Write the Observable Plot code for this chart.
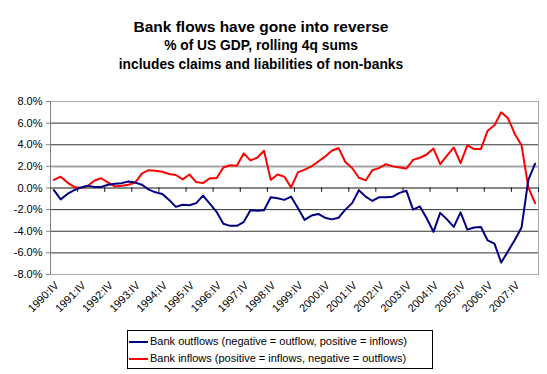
<!DOCTYPE html>
<html><head><meta charset="utf-8">
<script src="https://cdn.jsdelivr.net/npm/d3@7"></script>
<script src="https://cdn.jsdelivr.net/npm/@observablehq/plot@0.6"></script>
<style>
body{margin:0;background:#fff;font-family:"Liberation Sans",Arial,sans-serif;}
#wrap{position:relative;width:547px;height:374px;overflow:hidden;background:#fff;}
.t{position:absolute;left:0;width:522px;text-align:center;font-weight:bold;color:#000;white-space:nowrap;line-height:1;}
#t1{top:19px;font-size:15.5px;}
#t2{top:39px;font-size:13.8px;}
#t3{top:58px;font-size:13.8px;}
#chart{position:absolute;left:0;top:80px;}
#legend{position:absolute;left:127px;top:330px;width:306px;height:39px;border:1px solid #000;background:#fff;font-size:11px;color:#000;box-sizing:border-box;}
.li{position:absolute;left:1px;height:14px;line-height:14px;white-space:nowrap;}
.li span.sw{display:inline-block;width:19px;height:2px;vertical-align:middle;margin-right:2px;}
</style></head>
<body>
<div id="wrap">
  <div class="t" id="t1">Bank flows have gone into reverse</div>
  <div class="t" id="t2">% of US GDP, rolling 4q sums</div>
  <div class="t" id="t3">includes claims and liabilities of non-banks</div>
  <div id="chart"></div>
  <div id="legend">
    <div class="li" style="top:3px"><span class="sw" style="background:#000080"></span>Bank outflows (negative = outflow, positive = inflows)</div>
    <div class="li" style="top:20px"><span class="sw" style="background:#ff0000"></span>Bank inflows (positive = inflows, negative = outflows)</div>
  </div>
</div>
<script>
// Quarterly categories 1990:IV ... 2008:III
const years = d3.range(1990, 2009);
const romans = ["I", "II", "III", "IV"];
const quarters = [];
for (const yr of years) for (const r of romans) quarters.push(yr + ":" + r);
const categories = quarters.slice(quarters.indexOf("1990:IV"), quarters.indexOf("2008:III") + 1);

const tickLabels = ["1990:IV","1991:IV","1992:IV","1993:IV","1994:IV","1995:IV","1996:IV","1997:IV","1998:IV",
  "1999:IV","2000:IV","2001:IV","2002:IV","2003:IV","2004:IV","2005:IV","2006:IV","2007:IV"];

const bankOutflows = [
  -0.2, -1.05, -0.55, -0.2, 0.05, 0.2, 0.1, 0.1, 0.3, 0.4,
  0.45, 0.6, 0.5, 0.3, -0.15, -0.4, -0.55, -1.1, -1.75, -1.55,
  -1.6, -1.4, -0.7, -1.45, -2.2, -3.3, -3.5, -3.5, -3.15, -2.05,
  -2.1, -2.05, -0.85, -0.95, -1.1, -0.8, -1.85, -2.95, -2.55, -2.4,
  -2.75, -2.9, -2.75, -2.0, -1.4, -0.2, -0.8, -1.2, -0.85, -0.85,
  -0.8, -0.45, -0.25, -2.0, -1.7, -2.8, -4.05, -2.3, -2.9, -3.6,
  -2.25, -3.85, -3.65, -3.6, -4.85, -5.15, -6.9, -5.85, -4.8, -3.65,
  0.75, 2.25
];
const bankInflows = [
  0.75, 1.05, 0.5, 0.1, 0.0, 0.2, 0.7, 0.9, 0.5, 0.15,
  0.2, 0.3, 0.5, 1.35, 1.65, 1.6, 1.5, 1.3, 1.2, 0.8,
  1.25, 0.55, 0.45, 0.9, 0.9, 1.9, 2.1, 2.05, 3.2, 2.55,
  2.8, 3.45, 0.75, 1.25, 1.05, 0.05, 1.45, 1.7, 2.0, 2.45,
  2.9, 3.45, 3.7, 2.4, 1.85, 0.95, 0.7, 1.65, 1.85, 2.2,
  2.0, 1.9, 1.8, 2.6, 2.8, 3.1, 3.65, 2.2, 3.0, 3.75,
  2.3, 3.95, 3.6, 3.6, 5.3, 5.8, 7.0, 6.45, 5.0, 3.95,
  0.05, -1.4
];
const yTicks = [-8, -6, -4, -2, 0, 2, 4, 6, 8];
const darkGrid = [-6, -4, -2, 4, 6];

const idx = categories.map((d, i) => i);
const labelIdx = tickLabels.map(l => categories.indexOf(l));
const boundaries = labelIdx.slice(1).map(i => i - 0.5).concat([categories.length - 0.5]);
const outRows = idx.map(i => ({i, v: bankOutflows[i]}));
const inRows = idx.map(i => ({i, v: bankInflows[i]}));

const chart = Plot.plot({
  width: 547, height: 240,
  marginTop: 21, marginBottom: 46, marginLeft: 50, marginRight: 9,
  style: {fontFamily: "'Liberation Sans', Arial, sans-serif", fontSize: "11px", background: "#fff", color: "#000", overflow: "visible"},
  x: {domain: [-0.5, categories.length - 0.5], axis: null},
  y: {domain: [-8, 8]},
  marks: [
    Plot.ruleY(darkGrid, {stroke: "#333", strokeWidth: 1}),
    Plot.ruleY([2], {stroke: "#a6a6a6", strokeWidth: 2}),
    Plot.frame({stroke: "#a6a6a6"}),
    Plot.ruleX([-0.5], {stroke: "#808080"}),
    Plot.axisY({ticks: yTicks, tickFormat: d => d.toFixed(1) + "%", tickSize: 4, tickPadding: 4, stroke: "#808080", label: null, fontSize: 11}),
    Plot.text(labelIdx, {x: d => d, text: d => categories[d], frameAnchor: "bottom", dy: 9, dx: 3, rotate: -45, textAnchor: "end", lineAnchor: "middle", fontSize: 11, fill: "#000"}),
    Plot.ruleY([0], {stroke: "#111", strokeWidth: 1}),
    Plot.ruleX(boundaries, {x: d => d, y1: d => 0, y2: d => -0.4, stroke: "#111"}),
    Plot.line(inRows, {x: "i", y: "v", stroke: "#ff0000", strokeWidth: 2}),
    Plot.line(outRows, {x: "i", y: "v", stroke: "#000080", strokeWidth: 2})
  ]
});
document.getElementById("chart").appendChild(chart);
</script>
</body></html>
